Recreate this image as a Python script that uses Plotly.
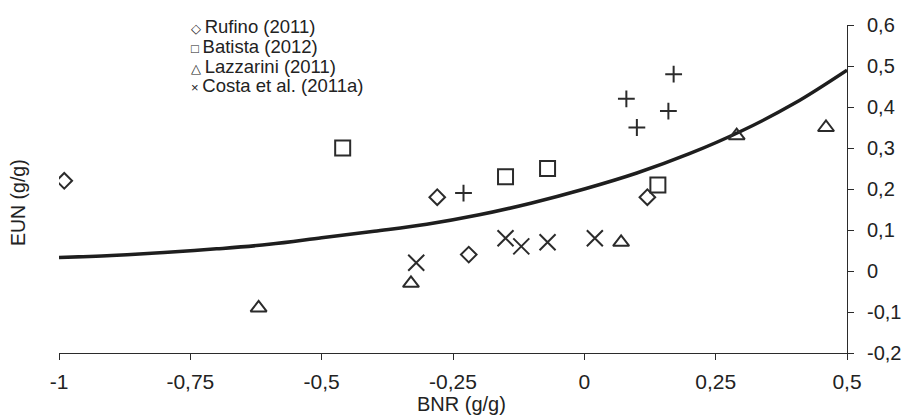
import plotly.graph_objects as go

# Data
rufino_x = [-0.99, -0.28, -0.22, 0.12]
rufino_y = [0.22, 0.18, 0.04, 0.18]
batista_x = [-0.46, -0.15, -0.07, 0.14]
batista_y = [0.30, 0.23, 0.25, 0.21]
lazzarini_x = [-0.62, -0.33, 0.07, 0.29, 0.46]
lazzarini_y = [-0.09, -0.03, 0.07, 0.33, 0.35]
costa_x = [-0.32, -0.15, -0.12, -0.07, 0.02]
costa_y = [0.02, 0.08, 0.06, 0.07, 0.08]
other_x = [-0.23, 0.08, 0.10, 0.16, 0.17]
other_y = [0.19, 0.42, 0.35, 0.39, 0.48]

curve_x = [-1.0, -0.9, -0.8, -0.7, -0.6, -0.5, -0.4, -0.3, -0.2, -0.1, 0.0, 0.1, 0.2, 0.3, 0.4, 0.5]
curve_y = [0.033, 0.038, 0.045, 0.054, 0.065, 0.081, 0.097, 0.114, 0.137, 0.166, 0.200, 0.239, 0.286, 0.342, 0.409, 0.490]

x_ticks = [-1, -0.75, -0.5, -0.25, 0, 0.25, 0.5]
x_ticklabels = ["-1", "-0,75", "-0,5", "-0,25", "0", "0,25", "0,5"]
y_ticks = [-0.2, -0.1, 0, 0.1, 0.2, 0.3, 0.4, 0.5, 0.6]
y_ticklabels = ["-0,2", "-0,1", "0", "0,1", "0,2", "0,3", "0,4", "0,5", "0,6"]

legend_labels = ["Rufino (2011)", "Batista (2012)", "Lazzarini (2011)", "Costa et al. (2011a)"]
legend_glyphs = ["\u25C7", "\u25A1", "\u25B3", "\u00D7"]

INK = "#2b2b2b"
FONT = "Liberation Sans, Arial, sans-serif"

# body margin is removed by post_script; plot area in window pixels: x 59..847, y 25..353
W, H = 906, 417
L, T = 59, 25
PW, PH = 788, 328
R = W - L - PW
B = H - T - PH

def px(xw):
    return (xw - L) / PW

def py(yw):
    return (T + PH - yw) / PH

fig = go.Figure()
fig.add_trace(go.Scatter(x=curve_x, y=curve_y, mode="lines",
                         line=dict(color="#1e1e1e", width=3.5, shape="spline"),
                         showlegend=False, hoverinfo="skip"))

def pts(x, y, sym, size, name):
    fig.add_trace(go.Scatter(x=x, y=y, mode="markers", name=name, showlegend=False,
                             marker=dict(symbol=sym, size=size, color=INK,
                                         line=dict(color=INK, width=2))))

pts(rufino_x, rufino_y, "diamond-open", 12, legend_labels[0])
pts(batista_x, batista_y, "square-open", 15, legend_labels[1])
pts(lazzarini_x, lazzarini_y, "triangle-up-open", 14, legend_labels[2])
pts(costa_x, costa_y, "x-thin-open", 16, legend_labels[3])
pts(other_x, other_y, "cross-thin-open", 12, "other")

legend_lines = [
    "<span style='font-size:13px'>" + g + "</span><span style='font-size:18.5px'>\u2009" + t + "</span>"
    for g, t in zip(legend_glyphs, legend_labels)
]

annotations = [
    dict(xref="paper", yref="paper", x=px(189), y=py(14),
         xanchor="left", yanchor="top", align="left", showarrow=False,
         text="<br>".join(legend_lines), font=dict(family=FONT, size=15.2, color="#222")),
    dict(xref="paper", yref="paper", x=px(18), y=py(203),
         xanchor="center", yanchor="middle", showarrow=False, textangle=-90,
         text="EUN (g/g)", font=dict(family=FONT, size=19.5, color="#222")),
    dict(xref="paper", yref="paper", x=px(462), y=py(404),
         xanchor="center", yanchor="middle", showarrow=False,
         text="BNR (g/g)", font=dict(family=FONT, size=20, color="#222")),
]

fig.update_layout(
    width=W, height=H,
    margin=dict(l=L, r=R, t=T, b=B, autoexpand=False),
    paper_bgcolor="white", plot_bgcolor="white",
    font=dict(family=FONT, size=20, color="#222"),
    annotations=annotations,
    xaxis=dict(range=[-1, 0.5], tickvals=x_ticks, ticktext=x_ticklabels, automargin=False,
               showgrid=False, zeroline=False, showline=True, linecolor=INK, linewidth=1,
               ticks="outside", ticklen=6, tickcolor=INK, ticklabelstandoff=4,
               tickfont=dict(size=21)),
    yaxis=dict(range=[-0.2, 0.6], tickvals=y_ticks, ticktext=y_ticklabels, side="right",
               automargin=False,
               showgrid=False, zeroline=False, showline=True, linecolor=INK, linewidth=1,
               ticks="outside", ticklen=6, tickcolor=INK, ticklabelstandoff=9,
               tickfont=dict(size=20)),
)

fig.write_html("out.html", config={"displayModeBar": False},
               post_script="document.body.style.margin='0';document.body.style.overflow='hidden';")
